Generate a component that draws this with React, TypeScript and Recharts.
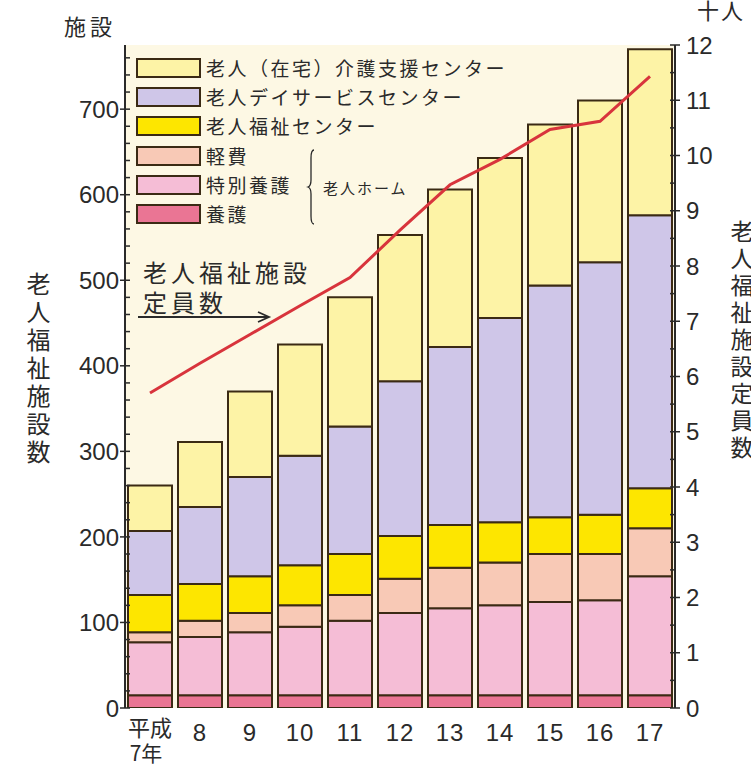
import React from 'react';
import { ComposedChart, Bar, Line, XAxis, YAxis, CartesianGrid, Legend } from 'recharts';

const years = ['平成7年', '8', '9', '10', '11', '12', '13', '14', '15', '16', '17'];
const yogo = [15, 15, 15, 15, 15, 15, 15, 15, 15, 15, 15];
const tokuyo = [62, 68, 73.5, 80, 87, 96, 101.5, 105, 109, 111, 139];
const keihi = [11.5, 19, 22.5, 25, 30, 40, 47.5, 50, 56, 54, 56];
const fukushiCenter = [43.5, 43, 43, 47, 48, 50, 50, 47, 43, 46, 47];
const dayService = [75, 90, 116, 128, 149, 181, 208, 239, 271, 295, 319];
const zaitaku = [53, 76, 100, 130, 151, 171, 184, 187, 188, 189, 194];
const capacity = [5.7, 6.24, 6.76, 7.28, 7.79, 8.65, 9.47, 9.93, 10.47, 10.62, 11.43];

const seriesNames = ['養護', '特別養護', '軽費', '老人福祉センター', '老人デイサービスセンター', '老人（在宅）介護支援センター'];
const seriesKeys = ['yogo', 'tokuyo', 'keihi', 'center', 'day', 'zaitaku'];
const seriesColors = ['#ea7594', '#f5bdd6', '#f8c9b6', '#fde600', '#cfc6e8', '#fdf3a6'];

const leftTicks = Array.from({ length: 39 }, (_, i) => i * 20);
const rightTicks = Array.from({ length: 25 }, (_, i) => i * 0.5);

const data = years.map((y, i) => ({
  year: y,
  yogo: yogo[i],
  tokuyo: tokuyo[i],
  keihi: keihi[i],
  center: fukushiCenter[i],
  day: dayService[i],
  zaitaku: zaitaku[i],
  cap: capacity[i],
}));

const NUM_FONT = '"Liberation Sans", Arial, sans-serif';
const JP_FONT = '"Noto Sans CJK JP", "Noto Sans", sans-serif';
const INK = '#2a2a2a';
const EDGE = '#3b2a14';

const LeftTick = (props: any) => {
  const { x, y, payload } = props;
  const v = payload.value;
  const major = v % 100 === 0;
  return (
    <g>
      <line x1={major ? x - 5 : x} x2={x + 5} y1={y} y2={y} stroke={INK} strokeWidth={1.5} />
      {major && (
        <text x={x - 6} y={y} dy="0.36em" textAnchor="end" fontSize={24} fill={INK} fontFamily={NUM_FONT}>
          {v}
        </text>
      )}
    </g>
  );
};

const RightTick = (props: any) => {
  const { x, y, payload } = props;
  const v = payload.value;
  const major = Number.isInteger(v);
  return (
    <g>
      <line x1={x - 5} x2={major ? x + 5 : x} y1={y} y2={y} stroke={INK} strokeWidth={1.5} />
      {major && (
        <text x={x + 11} y={y} dy="0.36em" textAnchor="start" fontSize={24} fill={INK} fontFamily={NUM_FONT}>
          {v}
        </text>
      )}
    </g>
  );
};

const XTick = (props: any) => {
  const { x, y, payload } = props;
  const v: string = payload.value;
  if (v.startsWith('平成')) {
    return (
      <g>
        <text x={x} y={y + 28} textAnchor="middle" fontSize={22} fill={INK} fontFamily={JP_FONT}>平成</text>
        <text x={x - 4} y={y + 53} textAnchor="middle" fontSize={21} fill={INK} fontFamily={JP_FONT}>{v.slice(2)}</text>
      </g>
    );
  }
  return (
    <text x={x} y={y + 33} textAnchor="middle" fontSize={24} fill={INK} fontFamily={NUM_FONT} letterSpacing={1}>
      {v}
    </text>
  );
};

const LegendBox = () => {
  const order = [5, 4, 3, 2, 1, 0];
  return (
    <div style={{ position: 'relative', width: 400, height: 175, fontFamily: JP_FONT }}>
      {order.map((idx, row) => (
        <div key={idx} style={{ position: 'absolute', left: 0, top: row * 29.2, height: 20, display: 'flex', alignItems: 'center' }}>
          <div
            style={{
              width: 65,
              height: 20,
              boxSizing: 'border-box',
              border: `2px solid ${EDGE}`,
              background: seriesColors[idx],
            }}
          />
          <span style={{ marginLeft: 5, fontSize: 19, letterSpacing: 2.5, color: INK, whiteSpace: 'nowrap', lineHeight: '20px' }}>
            {seriesNames[idx]}
          </span>
        </div>
      ))}
      <svg style={{ position: 'absolute', left: 170, top: 90 }} width={14} height={78}>
        <path d="M8 2 Q5 2 5 10 L5 32 Q5 38 2 39 Q5 40 5 46 L5 68 Q5 76 8 76" fill="none" stroke={INK} strokeWidth={1.3} />
      </svg>
      <div style={{ position: 'absolute', left: 187, top: 119, fontSize: 15, letterSpacing: 2, color: INK, whiteSpace: 'nowrap' }}>
        老人ホーム
      </div>
    </div>
  );
};

export default function App() {
  return (
    <div style={{ position: 'absolute', left: 0, top: 0, width: 751, height: 764, background: '#fff', overflow: 'hidden' }}>
      <ComposedChart width={751} height={764} data={data} margin={{ top: 45, right: 0, bottom: 0, left: 0 }}>
        <CartesianGrid horizontal={false} vertical={false} fill="#fdf8e4" />
        <XAxis
          dataKey="year"
          height={56}
          axisLine={false}
          tickLine={false}
          tickSize={0}
          tickMargin={0}
          interval={0}
          tick={<XTick />}
        />
        <YAxis
          yAxisId="left"
          orientation="left"
          width={125}
          domain={[0, 775]}
          ticks={leftTicks}
          interval={0}
          tickSize={0}
          tickMargin={0}
          tickLine={false}
          axisLine={{ stroke: INK, strokeWidth: 2 }}
          tick={<LeftTick />}
          allowDataOverflow
        />
        <YAxis
          yAxisId="right"
          orientation="right"
          width={76}
          domain={[0, 12]}
          ticks={rightTicks}
          interval={0}
          tickSize={0}
          tickMargin={0}
          tickLine={false}
          axisLine={{ stroke: INK, strokeWidth: 2 }}
          tick={<RightTick />}
          allowDataOverflow
        />
        {seriesKeys.map((k, i) => (
          <Bar
            key={k}
            yAxisId="left"
            dataKey={k}
            name={seriesNames[i]}
            stackId="a"
            fill={seriesColors[i]}
            stroke={EDGE}
            strokeWidth={2}
            barSize={44}
            isAnimationActive={false}
          />
        ))}
        <Line
          yAxisId="right"
          dataKey="cap"
          type="linear"
          stroke="#d8343c"
          strokeWidth={3}
          dot={false}
          activeDot={false}
          isAnimationActive={false}
        />
        <Legend
          layout="vertical"
          align="center"
          verticalAlign="middle"
          wrapperStyle={{ left: 136, top: 58, width: 400, height: 175 }}
          content={<LegendBox />}
        />
      </ComposedChart>

      <div style={{ position: 'absolute', left: 64, top: 11, fontSize: 22, letterSpacing: 4, color: INK, fontFamily: JP_FONT, lineHeight: '28px' }}>
        施設
      </div>
      <div style={{ position: 'absolute', left: 697, top: -5, fontSize: 22, letterSpacing: 2, color: INK, fontFamily: JP_FONT, lineHeight: '28px' }}>
        十人
      </div>
      <div
        style={{
          position: 'absolute',
          left: 24,
          top: 272,
          writingMode: 'vertical-rl',
          fontSize: 24,
          letterSpacing: 4,
          color: INK,
          fontFamily: JP_FONT,
          lineHeight: '28px',
        }}
      >
        老人福祉施設数
      </div>
      <div
        style={{
          position: 'absolute',
          left: 729,
          top: 220,
          writingMode: 'vertical-rl',
          fontSize: 23,
          letterSpacing: 4,
          color: INK,
          fontFamily: JP_FONT,
          lineHeight: '26px',
        }}
      >
        老人福祉施設定員数
      </div>
      <div style={{ position: 'absolute', left: 143, top: 257, fontSize: 24, letterSpacing: 4, color: INK, fontFamily: JP_FONT, lineHeight: '30px', whiteSpace: 'pre' }}>
        {'老人福祉施設\n定員数'}
      </div>
      <svg style={{ position: 'absolute', left: 136, top: 310 }} width={140} height={14}>
        <line x1={2} y1={7} x2={132} y2={7} stroke={INK} strokeWidth={1.8} />
        <path d="M122 2 L133 7 L122 12" fill="none" stroke={INK} strokeWidth={1.8} />
      </svg>
    </div>
  );
}
